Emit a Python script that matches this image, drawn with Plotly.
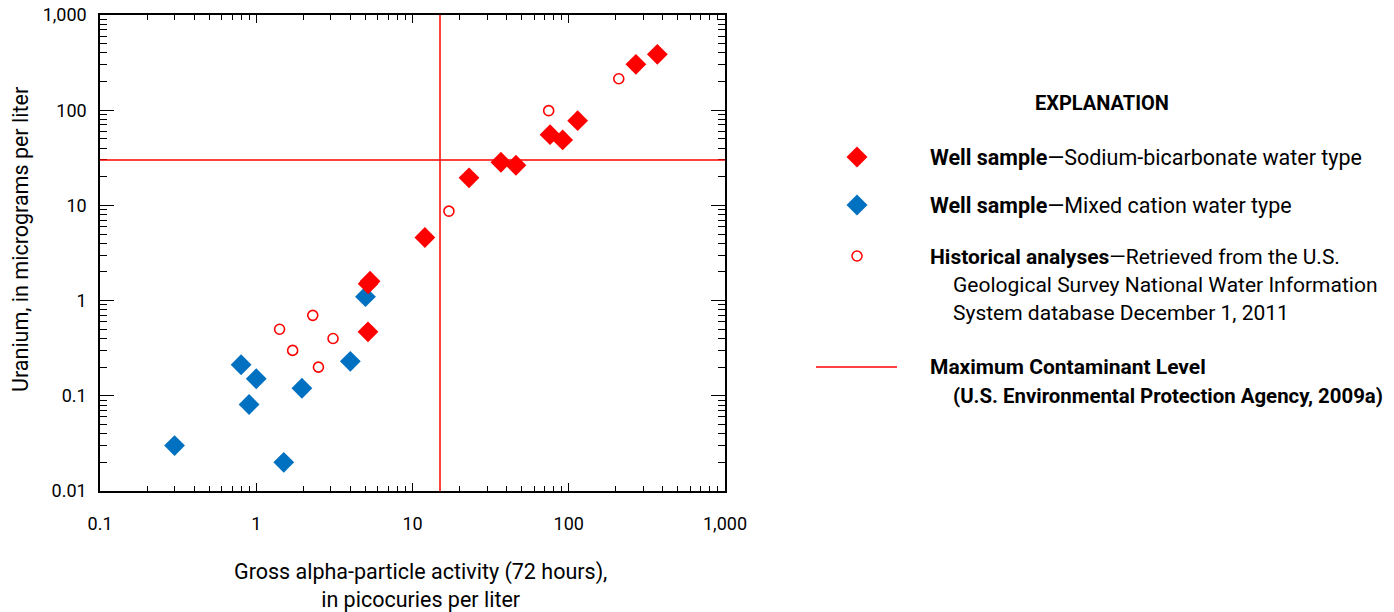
import plotly.graph_objects as go

# ---- data ----
sodium_x = [5.35, 5.2, 5.19, 12.0, 23.0, 36.8, 45.9, 75.9, 91.4, 114, 269, 369]
sodium_y = [1.6, 1.5, 0.47, 4.6, 19.5, 28.4, 26.4, 55.3, 48.7, 77.6, 303, 386]

mixed_x = [0.30, 0.80, 1.0, 0.90, 1.5, 1.96, 4.0, 5.0]
mixed_y = [0.030, 0.212, 0.151, 0.081, 0.020, 0.12, 0.23, 1.1]

hist_x = [1.41, 1.71, 2.30, 3.10, 2.50, 17.1, 74.4, 209]
hist_y = [0.50, 0.30, 0.70, 0.40, 0.20, 8.7, 98.9, 214]

mcl_alpha = 15      # pCi/L
mcl_uranium = 30    # ug/L

x_tickvals = [0.1, 1, 10, 100, 1000]
x_ticktext = ["0.1", "1", "10", "100", "1,000"]
y_tickvals = [0.01, 0.1, 1, 10, 100, 1000]
y_ticktext = ["0.01", "0.1", "1", "10", "100", "1,000"]

RED = "#FF0000"
BLUE = "#0070C0"
FONT = "Roboto, sans-serif"

W, H = 1394, 612
ML, MR, MT, MB = 100, W - 725, 15, H - 491
PW, PH = W - ML - MR, H - MT - MB


def px2paper_x(px):
    return (px - ML) / PW


def px2paper_y(py):
    return (H - MB - py) / PH


fig = go.Figure()

fig.add_trace(go.Scatter(x=hist_x, y=hist_y, mode="markers", showlegend=False,
                         marker=dict(symbol="circle-open", size=10, color=RED,
                                     line=dict(width=1.6, color=RED))))
fig.add_trace(go.Scatter(x=mixed_x, y=mixed_y, mode="markers", showlegend=False,
                         marker=dict(symbol="diamond", size=16, color=BLUE, line=dict(width=0))))
fig.add_trace(go.Scatter(x=sodium_x, y=sodium_y, mode="markers", showlegend=False,
                         marker=dict(symbol="diamond", size=16, color=RED, line=dict(width=0))))

# MCL lines
fig.add_shape(type="line", xref="x", yref="paper", x0=mcl_alpha, x1=mcl_alpha, y0=0, y1=1,
              line=dict(color=RED, width=1.5))
fig.add_shape(type="line", xref="paper", yref="y", x0=0, x1=1, y0=mcl_uranium, y1=mcl_uranium,
              line=dict(color=RED, width=1.5))

axis_common = dict(type="log", showgrid=False, zeroline=False, showline=True,
                   linecolor="black", linewidth=1.5, mirror="allticks", ticks="inside",
                   tickcolor="black", tickwidth=1.2, automargin=False,
                   tickfont=dict(family=FONT, size=18, color="black"))

fig.update_xaxes(**axis_common, range=[-1, 3], tickvals=x_tickvals, ticktext=x_ticktext,
                 ticklen=8, ticklabelstandoff=16,
                 minor=dict(ticks="inside", ticklen=5, dtick="D1", tickcolor="black", tickwidth=1))
fig.update_yaxes(**axis_common, range=[-2, 3], tickvals=y_tickvals, ticktext=y_ticktext,
                 ticklen=14, ticklabelstandoff=8,
                 minor=dict(ticks="inside", ticklen=7, dtick="D1", tickcolor="black", tickwidth=1))

# axis titles
fig.add_annotation(x=px2paper_x(420), y=px2paper_y(585), xref="paper", yref="paper",
                   text="Gross alpha-particle activity (72 hours),<br>in picocuries per liter",
                   showarrow=False, xanchor="center", yanchor="middle",
                   font=dict(family=FONT, size=21.5, color="black"))
fig.add_annotation(x=px2paper_x(20), y=px2paper_y(240), xref="paper", yref="paper",
                   text="Uranium, in micrograms per liter", textangle=-90,
                   showarrow=False, xanchor="center", yanchor="middle",
                   font=dict(family=FONT, size=21.5, color="black"))

# ---- explanation (legend) ----
for cy, col in [(157, RED), (205, BLUE)]:
    fig.add_shape(type="path", xref="paper", yref="paper",
                  xsizemode="pixel", ysizemode="pixel",
                  xanchor=px2paper_x(857), yanchor=px2paper_y(cy),
                  path="M 0 10.5 L 10.5 0 L 0 -10.5 L -10.5 0 Z",
                  fillcolor=col, line=dict(width=0))
fig.add_shape(type="circle", xref="paper", yref="paper",
              xsizemode="pixel", ysizemode="pixel",
              xanchor=px2paper_x(857), yanchor=px2paper_y(256),
              x0=-5, x1=5, y0=-5, y1=5, line=dict(color=RED, width=1.5))
fig.add_shape(type="line", xref="paper", yref="paper",
              x0=px2paper_x(816), x1=px2paper_x(897),
              y0=px2paper_y(367), y1=px2paper_y(367), line=dict(color=RED, width=1.5))

TX = 928
TX2 = 951
lines = [
    (1102, 103, "<b>EXPLANATION</b>", "center", 20),
    (TX, 157, "<b>Well sample</b>—Sodium-bicarbonate water type", "left", 21.5),
    (TX, 205, "<b>Well sample</b>—Mixed cation water type", "left", 21.5),
    (TX, 257, "<b>Historical analyses</b>—Retrieved from the U.S.", "left", 21),
    (TX2, 285, "Geological Survey National Water Information", "left", 21),
    (TX2, 313, "System database December 1, 2011", "left", 21),
    (TX, 367, "<b>Maximum Contaminant Level</b>", "left", 21),
    (TX2, 396, "<b>(U.S. Environmental Protection Agency, 2009a)</b>", "left", 20.4),
]
for x, y, t, anc, fs in lines:
    fig.add_annotation(x=px2paper_x(x), y=px2paper_y(y), xref="paper", yref="paper",
                       text=t, showarrow=False, xanchor=anc, yanchor="middle",
                       font=dict(family=FONT, size=fs, color="black"))

fig.update_layout(width=W, height=H, margin=dict(l=ML, r=MR, t=MT, b=MB, autoexpand=False),
                  paper_bgcolor="white", plot_bgcolor="white", showlegend=False)

fig.write_html("out.html")
